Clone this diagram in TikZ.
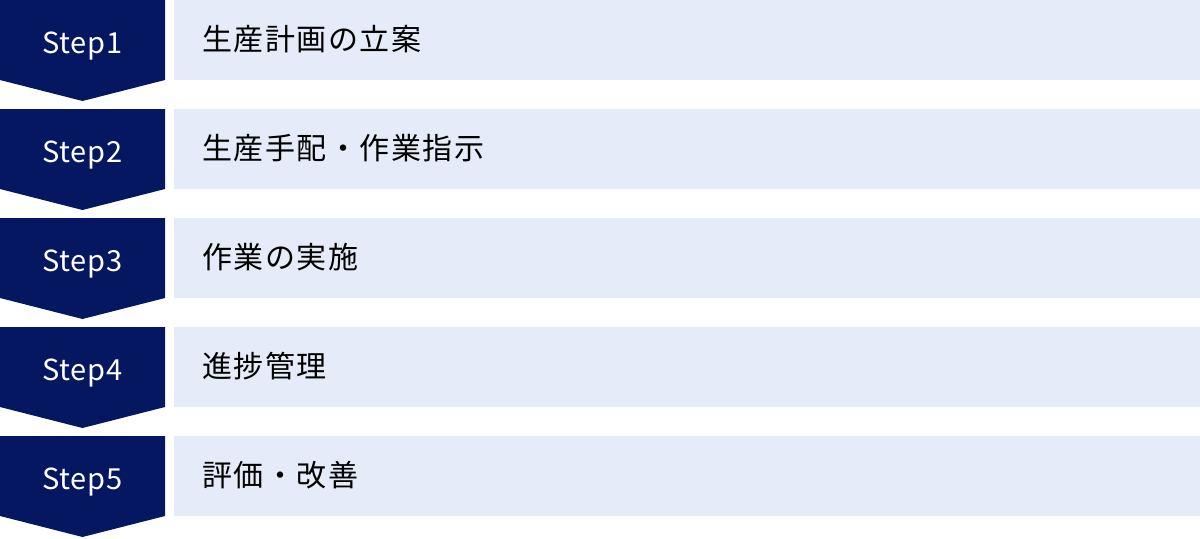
\documentclass[tikz,border=0pt]{standalone}
\usepackage{fontspec}
\setmainfont{Noto Sans CJK JP}
\definecolor{stepnavy}{RGB}{4,23,96}
\definecolor{steplight}{RGB}{229,235,248}
\tikzset{
  steptag/.style={text=white,font=\fontsize{14.5}{14.5}\selectfont\addfontfeatures{LetterSpace=3},anchor=base,inner sep=0pt},
  stepitem/.style={text=black,font=\fontsize{15}{15}\selectfont\addfontfeatures{LetterSpace=5},anchor=base west,inner sep=0pt},
}
\begin{document}
\begin{tikzpicture}[x=0.5pt,y=0.5pt]
        \useasboundingbox (0,0) rectangle (1200,538);
        \def\W{165}
        \def\H{80}
        \def\D{21}
        % Step1
        \fill[stepnavy] (0,538) -- ++(\W,0) -- ++(0,-\H) -- ++(-\W/2,-\D) -- ++(-\W/2,\D) -- cycle;
        \fill[steplight] (174,538) rectangle (1200,538-\H);
        \node[steptag] (step1) at (82.5,485) {Step1};
        \node[stepitem] (item1) at (202,488) {生産計画の立案};
        % Step2
        \fill[stepnavy] (0,429) -- ++(\W,0) -- ++(0,-\H) -- ++(-\W/2,-\D) -- ++(-\W/2,\D) -- cycle;
        \fill[steplight] (174,429) rectangle (1200,429-\H);
        \node[steptag] (step2) at (82.5,376) {Step2};
        \node[stepitem] (item2) at (202,379) {生産手配・作業指示};
        % Step3
        \fill[stepnavy] (0,320) -- ++(\W,0) -- ++(0,-\H) -- ++(-\W/2,-\D) -- ++(-\W/2,\D) -- cycle;
        \fill[steplight] (174,320) rectangle (1200,320-\H);
        \node[steptag] (step3) at (82.5,267) {Step3};
        \node[stepitem] (item3) at (202,270) {作業の実施};
        % Step4
        \fill[stepnavy] (0,211) -- ++(\W,0) -- ++(0,-\H) -- ++(-\W/2,-\D) -- ++(-\W/2,\D) -- cycle;
        \fill[steplight] (174,211) rectangle (1200,211-\H);
        \node[steptag] (step4) at (82.5,158) {Step4};
        \node[stepitem] (item4) at (202,161) {進捗管理};
        % Step5
        \fill[stepnavy] (0,102) -- ++(\W,0) -- ++(0,-\H) -- ++(-\W/2,-\D) -- ++(-\W/2,\D) -- cycle;
        \fill[steplight] (174,102) rectangle (1200,102-\H);
        \node[steptag] (step5) at (82.5,49) {Step5};
        \node[stepitem] (item5) at (202,52) {評価・改善};
\end{tikzpicture}
\end{document}
